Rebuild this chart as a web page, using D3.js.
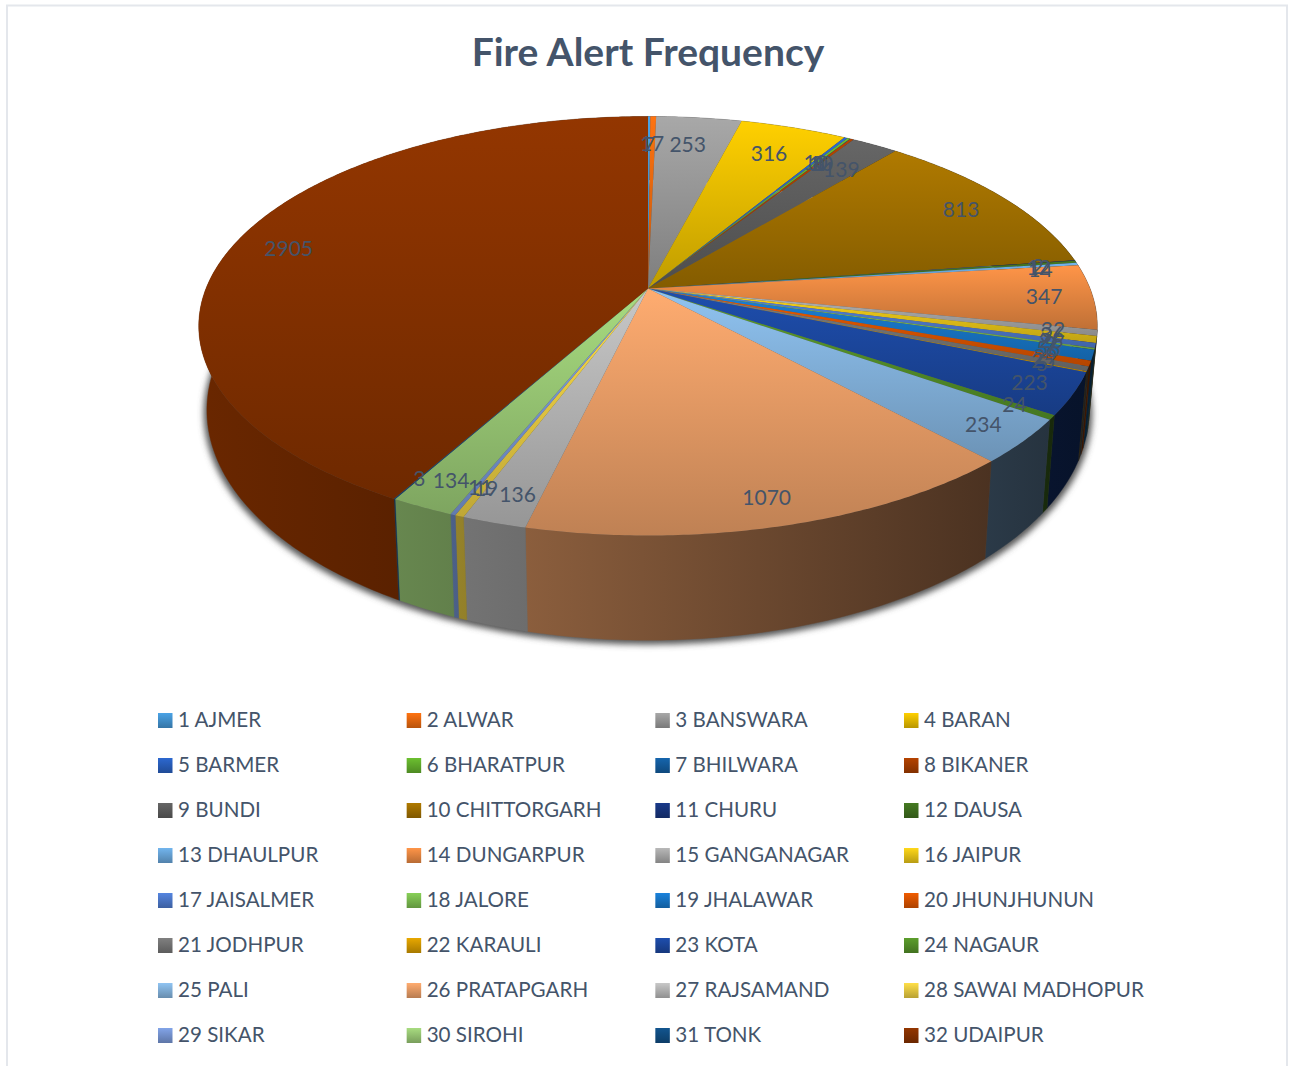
<!DOCTYPE html>
<html><head><meta charset="utf-8">
<script src="https://cdn.jsdelivr.net/npm/d3@7"></script>
<style>html,body{margin:0;padding:0;background:#fff;overflow:hidden}svg{display:block}text{font-family:Lato,sans-serif;fill:#44546a}</style>
</head><body><svg id="c" width="1289" height="1066"></svg>
<script>
const categories=["1 AJMER","2 ALWAR","3 BANSWARA","4 BARAN","5 BARMER","6 BHARATPUR","7 BHILWARA","8 BIKANER","9 BUNDI","10 CHITTORGARH","11 CHURU","12 DAUSA","13 DHAULPUR","14 DUNGARPUR","15 GANGANAGAR","16 JAIPUR","17 JAISALMER","18 JALORE","19 JHALAWAR","20 JHUNJHUNUN","21 JODHPUR","22 KARAULI","23 KOTA","24 NAGAUR","25 PALI","26 PRATAPGARH","27 RAJSAMAND","28 SAWAI MADHOPUR","29 SIKAR","30 SIROHI","31 TONK","32 UDAIPUR"];
const values=[7,17,253,316,10,8,1,10,139,813,2,12,14,347,32,36,26,9,56,29,25,5,223,24,234,1070,136,19,11,134,3,2905];
const colors=["#4aa3e6","#ff7310","#a8a8a8","#ffd000","#2c68d0","#6cc030","#1565ad","#b54300","#666666","#b07a00","#1a3a8a","#457a22","#72b5ee","#ff9548","#b8b8b8","#ffd81a","#5585e0","#88d058","#1a82dc","#f05c00","#808080","#e8a800","#1e4eae","#5c9e2c","#90c4f2","#ffac70","#c8c8c8","#ffdf48","#82a4e8","#a8dc80","#12558f","#933600"];
const legendCols=4;
const title="Fire Alert Frequency";

const svg=d3.select("#c"), defs=svg.append("defs");
// chart frame
svg.append("path").attr("d","M7 1066V5.5H1287V1066").attr("fill","none").attr("stroke","#e4e7ec").attr("stroke-width",2);
svg.append("text").text(title).attr("x",648).attr("y",66).attr("text-anchor","middle").attr("font-size",39).attr("font-weight",700);

// perspective projection of the pie disc
const k=0.179;
const planes={top:{cx:648,cy:288.5,A:442,B:202.8},bottom:{cx:648,cy:369,A:434,B:222.7}};
function project(a,r,pl){const u=Math.sin(a)*r,v=-Math.cos(a)*r,w=1-k*v;return [pl.cx+pl.A*u/w,pl.cy+pl.B*v/w];}
const arcPts=(a0,a1,pl)=>{const n=Math.max(2,Math.ceil((a1-a0)/0.01));return d3.range(n+1).map(i=>project(a0+(a1-a0)*i/n,1,pl));};
const line=d3.line();
const arcs=d3.pie().sort(null).value(d=>d)(values);
const shade=(c,m)=>{const o=d3.rgb(c);return d3.rgb(o.r*m,o.g*m,o.b*m).formatHex();};
const wallLight=x=>0.72-(x-199)*0.00054;

// drop shadow
defs.append("filter").attr("id","blur").attr("x","-5%").attr("y","-5%").attr("width","110%").attr("height","110%").append("feGaussianBlur").attr("stdDeviation",3);
svg.append("path").attr("d",line(arcPts(0,2*Math.PI,{...planes.bottom,A:planes.bottom.A+3,B:planes.bottom.B+1}))+"Z").attr("transform","translate(0,3)").attr("fill","#555").attr("filter","url(#blur)");

// walls
const walls=svg.append("g");
arcs.forEach((d,i)=>{
  const t=arcPts(d.startAngle,d.endAngle,planes.top), b=arcPts(d.startAngle,d.endAngle,planes.bottom).reverse(), pts=t.concat(b);
  const [x0,x1]=d3.extent(pts,p=>p[0]);
  const g=defs.append("linearGradient").attr("id","w"+i).attr("gradientUnits","userSpaceOnUse").attr("x1",x0).attr("x2",x1+0.01).attr("y1",0).attr("y2",0);
  g.append("stop").attr("offset",0).attr("stop-color",shade(colors[i],wallLight(x0)));
  g.append("stop").attr("offset",1).attr("stop-color",shade(colors[i],wallLight(x1)));
  walls.append("path").attr("d",line(pts)+"Z").attr("fill",`url(#w${i})`).attr("stroke",`url(#w${i})`).attr("stroke-width",0.4);
});

// top faces
const tops=svg.append("g");
arcs.forEach((d,i)=>{
  const pts=[[planes.top.cx,planes.top.cy]].concat(arcPts(d.startAngle,d.endAngle,planes.top));
  const g=defs.append("linearGradient").attr("id","t"+i).attr("x1",0).attr("x2",0).attr("y1",0).attr("y2",1);
  g.append("stop").attr("offset",0).attr("stop-color",colors[i]);
  g.append("stop").attr("offset",1).attr("stop-color",shade(colors[i],0.75));
  tops.append("path").attr("d",line(pts)+"Z").attr("fill",`url(#t${i})`);
});

// data labels: nudged around the rim the way the label-fitting of the original does
const deg=[0,8,23,37,61,83,92,102,119,125,132,166,197,205,208.7,284,360];
const nudgeX=d3.scaleLinear().domain(deg).range([0,-6,-9,-8,0,16,7,14,14,18,12,4,1,-3,-12,1,0]);
const nudgeY=d3.scaleLinear().domain(deg).range([8,7,7,7,1,2,0,1,2,4,4,6,5,4,9,2,8]);
const mid=d=>(d.startAngle+d.endAngle)/2, midDeg=d=>mid(d)*180/Math.PI;
svg.append("g").selectAll("text").data(arcs).join("text")
  .text(d=>d.data)
  .attr("x",d=>project(mid(d),0.875,planes.top)[0]+nudgeX(midDeg(d)))
  .attr("y",d=>project(mid(d),0.875,planes.top)[1]+nudgeY(midDeg(d)))
  .attr("text-anchor","middle").attr("dominant-baseline","central").attr("font-size",21);

// legend
const lx=d3.scalePoint().domain(d3.range(legendCols)).range([158,904]);
const ly=d3.scalePoint().domain(d3.range(Math.ceil(categories.length/legendCols))).range([720,1035]);
const lg=svg.append("g").selectAll("g").data(categories).join("g")
  .attr("transform",(d,i)=>`translate(${lx(i%legendCols)},${ly(Math.floor(i/legendCols))})`);
lg.append("rect").attr("x",0).attr("y",-7).attr("width",14.5).attr("height",15).attr("fill",(d,i)=>{
  const g=defs.append("linearGradient").attr("id","l"+i).attr("x1",0).attr("x2",0).attr("y1",0).attr("y2",1);
  g.append("stop").attr("offset",0).attr("stop-color",colors[i]);
  g.append("stop").attr("offset",1).attr("stop-color",shade(colors[i],0.72));
  return `url(#l${i})`;
});
lg.append("text").text(d=>d).attr("x",20).attr("y",-1).attr("dominant-baseline","central").attr("font-size",20.6);
</script></body></html>
